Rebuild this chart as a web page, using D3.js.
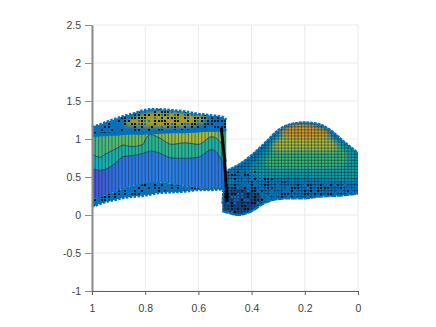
<!DOCTYPE html>
<html>
<head>
<meta charset="utf-8">
<script src="https://d3js.org/d3.v7.min.js"></script>
<style>
html, body { margin: 0; background: #fff; }
svg { display: block; }
.axis text { font-family: "Liberation Sans", Arial, sans-serif; font-size: 10.5px; fill: #404040; }
</style>
</head>
<body>
<svg width="436" height="327"></svg>
<script>
var xTicks = [1, 0.8, 0.6, 0.4, 0.2, 0];
var yTicks = [-1, -0.5, 0, 0.5, 1, 1.5, 2, 2.5];

// left sheet
var leftX =      [1, 0.97, 0.95, 0.9, 0.883, 0.85, 0.808, 0.8, 0.78, 0.75, 0.7, 0.65, 0.6, 0.55, 0.51, 0.495];
var leftTop =    [1.16, 1.19, 1.22, 1.28, 1.30, 1.33, 1.375, 1.38, 1.39, 1.39, 1.38, 1.36, 1.33, 1.31, 1.29, 1.25];
var leftStrip =  [1.05, 1.055, 1.06, 1.07, 1.075, 1.08, 1.08, 1.08, 1.09, 1.09, 1.10, 1.10, 1.11, 1.12, 1.12, 1.11];
var leftBand1 =  [0.80, 0.76, 0.80, 0.89, 0.92, 0.90, 0.93, 0.99, 1.06, 1.02, 0.93, 0.95, 0.93, 1.03, 0.92, 0.70];
var leftBand2 =  [0.61, 0.587, 0.60, 0.72, 0.77, 0.78, 0.81, 0.82, 0.84, 0.82, 0.75, 0.745, 0.76, 0.86, 0.70, 0.50];
var leftFloor =  [0.20, 0.235, 0.26, 0.33, 0.35, 0.38, 0.41, 0.42, 0.42, 0.43, 0.41, 0.38, 0.36, 0.34, 0.34, 0.33];
var leftBottom = [0.11, 0.145, 0.17, 0.21, 0.225, 0.24, 0.255, 0.26, 0.27, 0.29, 0.30, 0.31, 0.33, 0.33, 0.34, 0.33];

// right hump
var humpX =      [0.51, 0.5, 0.45, 0.4, 0.35, 0.3, 0.25, 0.2, 0.15, 0.1, 0.05, 0];
var humpTop =    [0.15, 0.55, 0.66, 0.79, 0.95, 1.12, 1.20, 1.22, 1.20, 1.11, 0.96, 0.82];
var humpNoise =  [0.15, 0.55, 0.59, 0.59, 0.51, 0.46, 0.42, 0.41, 0.41, 0.42, 0.43, 0.46];
var humpBottom = [0.05, 0.04, 0, 0.05, 0.16, 0.21, 0.22, 0.22, 0.24, 0.25, 0.26, 0.28];

// height colour patches on the hump
var navyRing = [[0.5, 0.3], [0.43, 0.35], [0.36, 0.22], [0.42, 0.02], [0.5, 0.02]];
var tealRing = [[0.406, 0.57], [0.35, 0.86], [0.274, 1.14], [0.2, 1.18], [0.105, 1.05], [0, 0.79], [0, 0.49], [0.218, 0.49], [0.35, 0.49]];
var greenRing = [[0.35, 0.66], [0.293, 0.92], [0.218, 1.05], [0.124, 0.99], [0.038, 0.79], [0.049, 0.66], [0.2, 0.62]];
var yellowRing = [[0.323, 0.88], [0.274, 1.05], [0.2, 1.12], [0.124, 1.05], [0.075, 0.88], [0.2, 0.86]];
var orangeRing = [[0.293, 1.09], [0.237, 1.2], [0.162, 1.18], [0.105, 1.07], [0.2, 1.01]];
var oliveRing = [[0.88, 1.2], [0.8, 1.34], [0.7, 1.36], [0.56, 1.28], [0.62, 1.18], [0.8, 1.16]];

// black edge between the two sheets
var edgeX = [0.514, 0.5, 0.492];
var edgeY = [1.15, 0.62, 0.17];

// mesh lattice
var meshX = [1, 0.9875, 0.975, 0.9625, 0.95, 0.9375, 0.925, 0.9125, 0.9, 0.8875, 0.875, 0.8625, 0.85, 0.8375, 0.825, 0.8125, 0.8, 0.7875, 0.775, 0.7625, 0.75, 0.7375, 0.725, 0.7125, 0.7, 0.6875, 0.675, 0.6625, 0.65, 0.6375, 0.625, 0.6125, 0.6, 0.5875, 0.575, 0.5625, 0.55, 0.5375, 0.525, 0.5125, 0.5, 0.4875, 0.475, 0.4625, 0.45, 0.4375, 0.425, 0.4125, 0.4, 0.3875, 0.375, 0.3625, 0.35, 0.3375, 0.325, 0.3125, 0.3, 0.2875, 0.275, 0.2625, 0.25, 0.2375, 0.225, 0.2125, 0.2, 0.1875, 0.175, 0.1625, 0.15, 0.1375, 0.125, 0.1125, 0.1, 0.0875, 0.075, 0.0625, 0.05, 0.0375, 0.025, 0.0125, 0];
var meshY = [0, 0.04, 0.08, 0.12, 0.16, 0.2, 0.24, 0.28, 0.32, 0.36, 0.4, 0.44, 0.48, 0.52, 0.56, 0.6, 0.64, 0.68, 0.72, 0.76, 0.8, 0.84, 0.88, 0.92, 0.96, 1, 1.04, 1.08, 1.12, 1.16, 1.2, 1.24, 1.28, 1.32, 1.36, 1.4];

var svg = d3.select('svg');
var defs = svg.append('defs');

var x = d3.scaleLinear().domain([1, 0]).range([92, 358]);
var y = d3.scaleLinear().domain([-1, 2.5]).range([291, 25]);

// grid
svg.append('g').selectAll('line').data(xTicks).enter().append('line')
	.attr('x1', function(d){ return x(d); }).attr('x2', function(d){ return x(d); })
	.attr('y1', y(2.5)).attr('y2', y(-1))
	.attr('stroke', '#ebebeb').attr('stroke-width', 1);
svg.append('g').selectAll('line').data(yTicks).enter().append('line')
	.attr('x1', x(1)).attr('x2', x(0))
	.attr('y1', function(d){ return y(d); }).attr('y2', function(d){ return y(d); })
	.attr('stroke', '#ebebeb').attr('stroke-width', 1);

function band(xs, top, bottom) {
	return d3.area().curve(d3.curveMonotoneX)
		.x(function(d, i){ return x(xs[i]); })
		.y0(function(d, i){ return y(bottom[i]); })
		.y1(function(d, i){ return y(top[i]); })(xs);
}
function curve(xs, ys) {
	return d3.line().curve(d3.curveMonotoneX)
		.x(function(d, i){ return x(xs[i]); })
		.y(function(d, i){ return y(ys[i]); })(xs);
}
function ring(pts) {
	return d3.line().curve(d3.curveCatmullRomClosed)
		.x(function(d){ return x(d[0]); })
		.y(function(d){ return y(d[1]); })(pts);
}
function clip(id, d) {
	defs.append('clipPath').attr('id', id).append('path').attr('d', d);
	return 'url(#' + id + ')';
}
function gradient(id, stops) {
	var g = defs.append('linearGradient').attr('id', id);
	stops.forEach(function(s){
		g.append('stop').attr('offset', s[0]).attr('stop-color', s[1]);
	});
	return 'url(#' + id + ')';
}

defs.append('filter').attr('id', 'soft')
	.attr('x', '-20%').attr('y', '-20%').attr('width', '140%').attr('height', '140%')
	.append('feGaussianBlur').attr('stdDeviation', 2);

// speckle texture: a fixed hash of the mesh cell, always the same picture
function mix(i, j, salt) {
	var h = Math.imul(i + 11, 73856093) ^ Math.imul(j + 7, 19349663) ^ salt;
	h = Math.imul(h ^ (h >>> 15), 2246822519);
	h = Math.imul(h ^ (h >>> 13), 3266489917);
	return ((h ^ (h >>> 16)) >>> 0) % 100;
}
function speckle(g, color, share, salt) {
	var cells = [];
	meshX.forEach(function(mx, i){
		meshY.forEach(function(my, j){
			if (mix(i, j, salt) < share) cells.push([mx, my]);
		});
	});
	g.append('g').attr('shape-rendering', 'crispEdges')
		.selectAll('rect').data(cells).enter().append('rect')
		.attr('x', function(d){ return Math.round(x(d[0])) - 1; })
		.attr('y', function(d){ return Math.round(y(d[1])) - 1; })
		.attr('width', 2).attr('height', 2)
		.attr('fill', color);
}
function lattice(g, color, width, opacity, rows) {
	g.selectAll('line.v').data(meshX).enter().append('line').attr('class', 'v')
		.attr('x1', function(d){ return x(d); }).attr('x2', function(d){ return x(d); })
		.attr('y1', y(1.5)).attr('y2', y(0))
		.attr('stroke', color).attr('stroke-width', width).attr('stroke-opacity', opacity);
	if (!rows) return;
	g.selectAll('line.h').data(meshY).enter().append('line').attr('class', 'h')
		.attr('x1', x(1)).attr('x2', x(0))
		.attr('y1', function(d){ return y(d); }).attr('y2', function(d){ return y(d); })
		.attr('stroke', color).attr('stroke-width', width).attr('stroke-opacity', opacity);
}

// hump
var humpClip = clip('humpClip', band(humpX, humpTop, humpBottom));
var hump = svg.append('g').attr('clip-path', humpClip);
hump.append('path').attr('d', band(humpX, humpTop, humpBottom)).attr('fill', '#0a78c0');
var patches = hump.append('g').attr('filter', 'url(#soft)');
patches.append('path').attr('d', ring(navyRing)).attr('fill', '#1a4488');
patches.append('path').attr('d', ring(tealRing)).attr('fill', '#0fa3a8');
patches.append('path').attr('d', ring(greenRing)).attr('fill', '#3dbb72');
patches.append('path').attr('d', ring(yellowRing)).attr('fill', '#b8c030');
patches.append('path').attr('d', ring(orangeRing)).attr('fill', '#e0991c');
lattice(hump, '#0a2a3c', 0.9, 0.6, true);
var humpDark = svg.append('g').attr('clip-path', clip('noiseClip', band(humpX, humpNoise, humpBottom)));
speckle(humpDark, '#0072bd', 40, 5);
speckle(humpDark, '#06121f', 30, 9);

// left sheet bands
var colTop = gradient('colTop', [[0, '#3fb88a'], [0.3, '#66bd58'], [0.65, '#a4ba38'], [0.88, '#b4bb30'], [1, '#3fb888']]);
var colMid = gradient('colMid', [[0, '#12aebd'], [0.25, '#20b49c'], [0.6, '#2cb98a'], [1, '#1fb0a0']]);
var colLow = gradient('colLow', [[0, '#4a4fd8'], [0.2, '#2f74e2'], [0.6, '#2a80e6'], [1, '#2b74dc']]);
var bands = svg.append('g');
bands.append('path').attr('d', band(leftX, leftStrip, leftBand1)).attr('fill', colTop);
bands.append('path').attr('d', band(leftX, leftBand1, leftBand2)).attr('fill', colMid);
bands.append('path').attr('d', band(leftX, leftBand2, leftFloor)).attr('fill', colLow);
var stripes = svg.append('g').attr('clip-path', clip('bandClip', band(leftX, leftStrip, leftFloor)));
lattice(stripes, '#10324a', 1.1, 0.5, false);
bands.append('path').attr('d', curve(leftX, leftBand1)).attr('fill', 'none').attr('stroke', '#12384a').attr('stroke-width', 0.8);
bands.append('path').attr('d', curve(leftX, leftBand2)).attr('fill', 'none').attr('stroke', '#12384a').attr('stroke-width', 0.8);

// left sheet upper and lower speckled parts
var upper = svg.append('g').attr('clip-path', clip('upperClip', band(leftX, leftTop, leftStrip)));
upper.append('path').attr('d', band(leftX, leftTop, leftStrip)).attr('fill', '#0a6fb4');
upper.append('path').attr('d', ring(oliveRing)).attr('fill', '#a89a28').attr('filter', 'url(#soft)');
speckle(upper, '#0072bd', 35, 3);
speckle(upper, '#071522', 40, 1);
var lower = svg.append('g').attr('clip-path', clip('lowerClip', band(leftX, leftFloor, leftBottom)));
lower.append('path').attr('d', band(leftX, leftFloor, leftBottom)).attr('fill', '#0a6fb4');
speckle(lower, '#071522', 40, 2);

// bumpy blue rims
function rim(xs, ys, w, dash) {
	svg.append('path').attr('d', curve(xs, ys)).attr('fill', 'none')
		.attr('stroke', '#0072bd').attr('stroke-width', w).attr('stroke-dasharray', dash);
}
rim(leftX, leftTop, 2.6, '2.5 1.4');
rim(leftX, leftBottom, 2.6, '2.5 1.4');
rim(leftX, leftFloor, 1.2, '3 1.5');
rim(leftX, leftStrip, 3.5, null);
rim(humpX, humpTop, 2, '3 0.8');
rim(humpX, humpBottom, 2.2, '6 0.6');

// black edge
svg.append('path').attr('d', curve(edgeX, edgeY)).attr('fill', 'none')
	.attr('stroke', '#050505').attr('stroke-width', 3);

// axes
var yAxis = svg.append('g').attr('class', 'axis')
	.attr('transform', 'translate(' + x(1) + ',0)')
	.call(d3.axisLeft(y).tickValues(yTicks).tickFormat(String).tickSize(7).tickPadding(4).tickSizeOuter(0));
yAxis.select('.domain').attr('stroke', '#8c8c8c').attr('stroke-width', 2);
yAxis.selectAll('.tick line').attr('stroke', '#8c8c8c');

var xAxis = svg.append('g').attr('class', 'axis')
	.attr('transform', 'translate(0,' + y(-1) + ')')
	.call(d3.axisBottom(x).tickValues(xTicks).tickFormat(String).tickSize(4).tickPadding(10).tickSizeOuter(0));
xAxis.select('.domain').attr('stroke', '#606060').attr('stroke-width', 1);
xAxis.selectAll('.tick line').attr('stroke', '#606060');
</script>
</body>
</html>
